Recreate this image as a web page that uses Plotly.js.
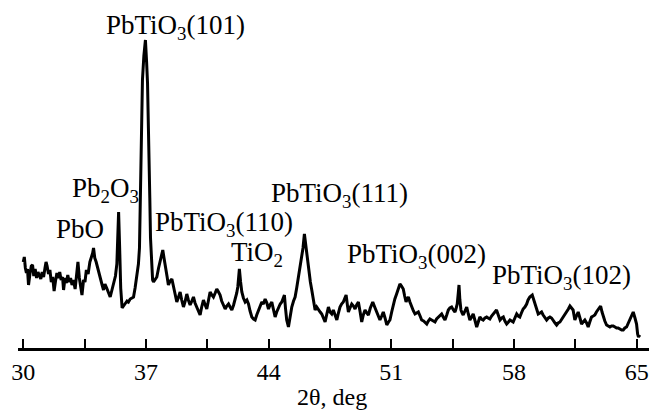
<!DOCTYPE html>
<html>
<head>
<meta charset="utf-8">
<script src="https://cdn.plot.ly/plotly-3.0.1.min.js"></script>
<style>html,body{margin:0;padding:0;background:#fff;}#chart{width:651px;height:410px;}</style>
</head>
<body>
<div id="chart"></div>
<script>
const twoTheta = [
30.00,30.06,30.12,30.18,30.24,30.30,30.38,30.46,30.53,30.60,30.68,30.76,30.84,30.92,31.00,31.08,31.16,31.24,31.30,31.36,
31.44,31.52,31.60,31.68,31.76,31.84,31.92,32.00,32.08,32.16,32.24,32.30,32.38,32.46,32.54,32.62,32.70,32.78,32.86,32.96,
33.04,33.12,33.20,33.28,33.35,33.44,33.52,33.60,33.70,33.80,33.90,33.96,34.01,34.08,34.16,34.24,34.32,34.40,34.50,34.58,
34.66,34.76,34.86,34.96,35.06,35.16,35.26,35.34,35.40,35.44,35.50,35.56,35.64,35.72,35.82,35.92,36.00,36.10,36.20,36.29,
36.38,36.48,36.57,36.63,36.67,36.72,36.80,36.88,36.97,37.04,37.09,37.14,37.18,37.22,37.26,37.32,37.38,37.43,37.52,37.62,
37.72,37.81,37.90,37.96,38.03,38.10,38.20,38.28,38.38,38.48,38.54,38.60,38.68,38.76,38.86,38.95,39.04,39.14,39.24,39.33,
39.42,39.52,39.62,39.71,39.80,39.90,40.00,40.09,40.18,40.28,40.38,40.47,40.56,40.66,40.76,40.85,40.95,41.04,41.14,41.23,
41.32,41.42,41.52,41.61,41.71,41.80,41.90,42.00,42.09,42.18,42.24,42.33,42.40,42.47,42.56,42.66,42.76,42.85,42.94,43.04,
43.14,43.23,43.32,43.42,43.52,43.61,43.70,43.80,43.90,43.99,44.08,44.18,44.28,44.37,44.46,44.56,44.66,44.75,44.84,44.90,
44.96,45.03,45.13,45.22,45.32,45.42,45.51,45.60,45.70,45.80,45.89,45.96,46.04,46.11,46.18,46.24,46.30,46.38,46.46,46.56,
46.65,46.74,46.84,46.94,47.03,47.12,47.22,47.32,47.41,47.50,47.60,47.69,47.80,47.89,47.98,48.07,48.16,48.26,48.35,48.42,
48.50,48.55,48.64,48.74,48.84,48.93,49.02,49.12,49.22,49.31,49.40,49.50,49.60,49.69,49.80,49.94,50.05,50.17,50.26,50.35,
50.45,50.54,50.64,50.74,50.84,50.92,51.02,51.11,51.20,51.30,51.40,51.49,51.58,51.68,51.76,51.84,51.90,51.97,52.06,52.16,
52.26,52.35,52.44,52.54,52.64,52.73,52.84,52.93,53.02,53.11,53.20,53.30,53.39,53.49,53.58,53.68,53.78,53.87,53.96,54.06,
54.16,54.25,54.34,54.44,54.54,54.63,54.70,54.76,54.82,54.86,54.91,54.97,55.04,55.10,55.20,55.30,55.39,55.48,55.58,55.67,
55.78,55.87,55.96,56.05,56.14,56.24,56.34,56.44,56.52,56.62,56.72,56.81,56.90,57.00,57.10,57.20,57.30,57.39,57.48,57.58,
57.68,57.77,57.86,57.95,58.05,58.15,58.24,58.33,58.42,58.52,58.62,58.72,58.80,58.90,59.04,59.12,59.19,59.28,59.38,59.48,
59.57,59.66,59.76,59.86,59.96,60.05,60.14,60.24,60.34,60.43,60.52,60.62,60.70,60.80,60.90,61.00,61.10,61.19,61.28,61.37,
61.42,61.47,61.56,61.66,61.76,61.85,61.94,62.04,62.14,62.23,62.32,62.42,62.52,62.61,62.70,62.80,62.87,62.94,63.02,63.09,
63.18,63.28,63.38,63.47,63.56,63.66,63.76,63.85,63.94,64.04,64.14,64.23,64.32,64.42,64.52,64.61,64.70,64.80,64.90,64.99,
65.05,65.10,65.18
];
const intensity = [
86,91,80,75,79,63,74,82,83,72,79,70,76,73,69,76,71,80,86,82,
74,78,66,71,57,67,75,70,76,68,71,58,70,65,73,66,70,63,68,59,
72,86,70,60,53,68,66,78,74,86,91,95,100,90,86,80,74,70,63,58,
64,60,56,51,58,64,72,84,120,136,100,60,40,42,44,47,46,49,50,51,
60,71,84,100,150,210,268,292,308,285,265,220,195,150,110,80,68,66,69,71,
80,88,95,98,90,84,72,63,67,69,64,59,52,46,51,56,48,41,47,54,
48,43,47,51,45,41,37,33,41,48,43,39,47,56,53,51,55,59,56,53,
47,43,39,42,44,41,38,43,48,55,61,79,66,56,50,46,48,44,37,31,
29,28,33,38,43,46,44,49,45,39,43,46,38,31,36,41,44,46,50,53,
40,28,21,32,41,47,51,60,71,81,91,100,114,104,94,84,74,66,58,46,
38,41,39,36,34,30,26,34,41,36,34,38,32,28,35,41,44,46,50,53,
42,36,40,44,42,39,43,46,36,26,33,38,35,33,40,46,41,36,32,28,
32,36,30,23,26,28,36,43,49,54,60,64,62,59,52,46,49,51,46,41,
37,34,35,36,32,28,27,25,24,27,29,28,27,26,29,31,33,34,31,28,
33,38,40,41,38,36,40,44,55,63,48,38,35,33,37,41,34,28,31,34,
27,21,26,31,29,28,30,31,30,29,32,34,36,38,33,28,30,31,27,24,
26,28,27,26,30,34,32,31,35,39,41,44,48,51,53,48,44,39,34,35,
36,33,31,28,30,31,30,28,25,23,25,26,28,31,34,36,39,42,40,38,
33,28,32,36,30,24,26,28,25,21,26,31,32,33,36,39,41,42,36,31,
27,23,22,21,22,22,21,20,20,19,18,18,20,21,25,28,32,36,30,24,
14,11,13
];
const tickVals = [30,33.5,37,40.5,44,47.5,51,54.5,58,61.5,65];
const tickText = ['30','','37','','44','','51','','58','','65'];
const xTitle = '2θ, deg';
const peakLabels = ['PbO','Pb<sub>2</sub>O<sub>3</sub>','PbTiO<sub>3</sub>(101)','PbTiO<sub>3</sub>(110)','TiO<sub>2</sub>','PbTiO<sub>3</sub>(111)','PbTiO<sub>3</sub>(002)','PbTiO<sub>3</sub>(102)'];
const labelX = [33.25,34.68,38.67,41.46,43.34,48.02,52.46,60.73];
const labelY = [119,158,321,124,94,153,92,71];

const serif = 'Liberation Serif';
const annotations = peakLabels.map((t,i)=>({
  x: labelX[i], y: labelY[i], xref:'x', yref:'y', text:t, showarrow:false,
  xanchor:'center', yanchor:'middle', font:{family:serif, size:27, color:'#000'}
}));
annotations.push({
  x:0.497, y:0, xref:'paper', yref:'paper', yshift:-34, text:xTitle, showarrow:false,
  xanchor:'center', yanchor:'top', font:{family:serif, size:24, color:'#000'}
});

Plotly.newPlot('chart', [{
  x: twoTheta, y: intensity, type:'scatter', mode:'lines',
  line:{color:'#000', width:3}, hoverinfo:'skip'
}], {
  width:651, height:410,
  margin:{l:18, r:2, t:18, b:62, pad:0},
  paper_bgcolor:'#fff', plot_bgcolor:'#fff',
  showlegend:false,
  xaxis:{
    range:[29.7,65.7], showgrid:false, zeroline:false,
    showline:true, linecolor:'#000', linewidth:2.5,
    ticks:'inside', ticklen:9, tickwidth:1.5, tickcolor:'#000',
    tickmode:'array', tickvals:tickVals, ticktext:tickText,
    tickfont:{family:serif, size:24, color:'#000'},
    automargin:false
  },
  yaxis:{range:[0,330], visible:false},
  annotations: annotations
}, {displayModeBar:false});
</script>
</body>
</html>
